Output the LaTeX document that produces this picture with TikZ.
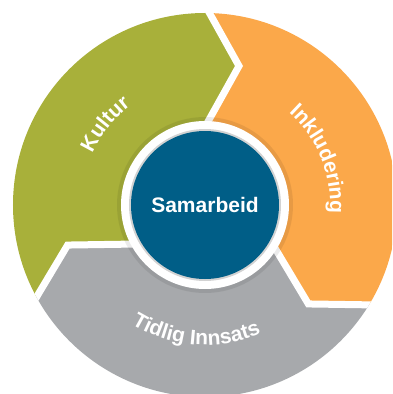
\documentclass[tikz,border=0pt]{standalone}
\usepackage{fontspec}
\setmainfont{Liberation Sans}
\usepackage{xcolor}
\usetikzlibrary{decorations.text}

\definecolor{kulturgreen}{RGB}{168,176,58}
\definecolor{inklorange}{RGB}{251,168,74}
\definecolor{innsatsgray}{RGB}{167,169,172}
\definecolor{samblue}{RGB}{0,94,135}

\newcommand{\seglabelfont}{\fontsize{21}{25}\selectfont\bfseries}

\tikzset{
    gap/.style={white, line width=7pt, line join=miter},
    seglabel/.style={decorate, decoration={text along path, text align=center,
        text color=white, text={|\seglabelfont|#1}}},
}

\begin{document}
\begin{tikzpicture}[x=1pt,y=1pt]
    % Frame
    \clip (-205,-189) rectangle (187,205);
    \fill[white] (-205,-189) rectangle (187,205);

    % Chevron corners
    \foreach \ang/\name in {90/top, -30/right, 210/left} {
        \begin{scope}[rotate=\ang]
            \coordinate (\name-out) at (200,0);
            \coordinate (\name-tip) at (139,-34);
            \coordinate (\name-in) at (78,0);
        \end{scope}
    }

    % Segments
    \begin{scope}
        \clip (0,0) circle (192);
        \fill[kulturgreen] (left-in) -- (left-tip) -- (left-out)
            arc[start angle=210, end angle=90, radius=200] -- (top-tip) -- (top-in)
            arc[start angle=90, end angle=210, radius=78] -- cycle;
        \fill[inklorange] (top-in) -- (top-tip) -- (top-out)
            arc[start angle=90, end angle=-30, radius=200] -- (right-tip) -- (right-in)
            arc[start angle=-30, end angle=90, radius=78] -- cycle;
        \fill[innsatsgray] (right-in) -- (right-tip) -- (right-out)
            arc[start angle=-30, end angle=-150, radius=200] -- (left-tip) -- (left-in)
            arc[start angle=-150, end angle=-30, radius=78] -- cycle;
        \foreach \name in {top, right, left}
            \draw[gap] (\name-in) -- (\name-tip) -- (\name-out);
    \end{scope}

    % Centre
    \fill[black, opacity=0.08] (0,0) circle (88);
    \fill[white] (0,0) circle (84);
    \fill[gray!35] (0,0) circle (76);
    \node[circle, fill=samblue, minimum size=148pt, inner sep=0pt, text=white,
        font=\seglabelfont] (samarbeid) at (0,0) {Samarbeid};

    % Labels
    \path[seglabel=Kultur] (191:124) arc[start angle=191, end angle=91, radius=124];
    \path[seglabel=Inkludering] (72:125) arc[start angle=72, end angle=-28, radius=125];
    \path[seglabel=Tidlig Innsats] (216:140) arc[start angle=216, end angle=316, radius=140];
\end{tikzpicture}
\end{document}
